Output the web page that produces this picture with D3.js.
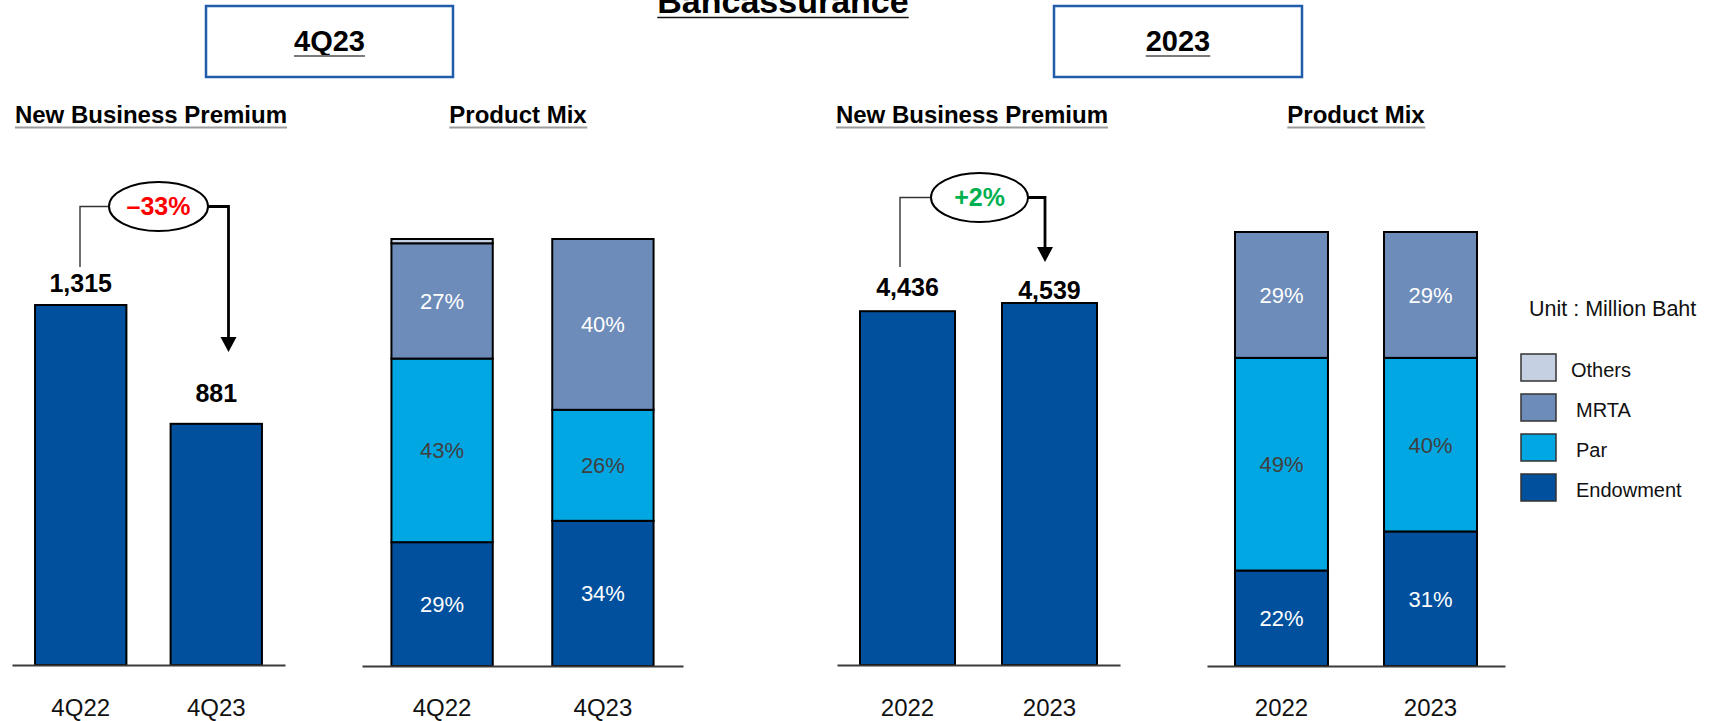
<!DOCTYPE html>
<html><head><meta charset="utf-8">
<script src="https://cdn.jsdelivr.net/npm/d3@7"></script>
<style>
html,body{margin:0;padding:0;background:#fff;}
svg{display:block;font-family:"Liberation Sans",Arial,Helvetica,sans-serif;}
</style></head><body>
<svg id="chart" width="1713" height="721"></svg>
<script>
// ---- data ----
const quarterCategories = ['4Q22', '4Q23'];
const quarterPremium = [1315, 881];
const yearCategories = ['2022', '2023'];
const yearPremium = [4436, 4539];
const quarterGrowth = '–33%';
const yearGrowth = '+2%';

const mixKeys = ['Endowment', 'Par', 'MRTA', 'Others'];
const quarterEndowment = [29, 34];
const quarterPar = [43, 26];
const quarterMRTA = [27, 40];
const quarterOthers = [1, 0];
const yearEndowment = [22, 31];
const yearPar = [49, 40];
const yearMRTA = [29, 29];
const yearOthers = [0, 0];
const legendKeys = ['Others', 'MRTA', 'Par', 'Endowment'];

// ---- styles ----
const colors = {Endowment: '#00509e', Par: '#00a7e3', MRTA: '#6d8cb9', Others: '#c5d0e2'};
const labelColors = {Endowment: '#ffffff', Par: '#404040', MRTA: '#ffffff', Others: '#404040'};
const boxBlue = '#1f5caa';

const svg = d3.select('#chart');

function underline(textSel, y, color, width) {
  const bb = textSel.node().getBBox();
  svg.append('line')
    .attr('x1', bb.x).attr('x2', bb.x + bb.width)
    .attr('y1', y).attr('y2', y)
    .attr('stroke', color).attr('stroke-width', width);
}

// ---- page title (runs off the top edge) ----
const title = svg.append('text')
  .attr('x', 783).attr('y', 12.5)
  .attr('text-anchor', 'middle')
  .attr('font-size', 34).attr('font-weight', 'bold')
  .text('Bancassurance');
underline(title, 17.5, '#111', 1.6);

// ---- period boxes ----
function periodBox(x0, x1, label) {
  svg.append('rect')
    .attr('x', x0).attr('y', 6).attr('width', x1 - x0).attr('height', 71)
    .attr('fill', '#fff').attr('stroke', boxBlue).attr('stroke-width', 2.5);
  const t = svg.append('text')
    .attr('x', (x0 + x1) / 2).attr('y', 51)
    .attr('text-anchor', 'middle')
    .attr('font-size', 29).attr('font-weight', 'bold')
    .text(label);
  underline(t, 56, '#7a7a7a', 2);
}
periodBox(206, 453, '4Q23');
periodBox(1054, 1302, '2023');

// ---- section headers ----
function header(cx, label) {
  const t = svg.append('text')
    .attr('x', cx).attr('y', 123)
    .attr('text-anchor', 'middle')
    .attr('font-size', 24).attr('font-weight', 'bold')
    .text(label);
  underline(t, 127.5, '#9c9c9c', 2);
}
header(151, 'New Business Premium');
header(518, 'Product Mix');
header(972, 'New Business Premium');
header(1356, 'Product Mix');

// ---- shared x axis ----
function drawAxis(x, base) {
  const g = svg.append('g')
    .attr('transform', `translate(0,${base})`)
    .call(d3.axisBottom(x).tickSize(0).tickSizeOuter(0).tickPadding(716 - base - 17));
  g.select('.domain').attr('stroke', '#3a3a3a').attr('stroke-width', 2);
  g.selectAll('text')
    .attr('font-size', 24).attr('fill', '#111')
    .attr('font-family', '"Liberation Sans",Arial,Helvetica,sans-serif');
  return g;
}

// ---- new business premium panels ----
function premiumPanel(cfg) {
  const x = d3.scaleBand().domain(cfg.cats).range(cfg.xRange)
    .paddingInner(cfg.inner).paddingOuter(cfg.outer);
  const y = d3.scaleLinear().domain([0, d3.max(cfg.values)]).range([cfg.base, cfg.top]);
  const data = cfg.cats.map((c, i) => ({cat: c, value: cfg.values[i], offset: cfg.labelGap[i]}));

  svg.append('g').selectAll('rect').data(data).join('rect')
    .attr('x', d => x(d.cat)).attr('width', x.bandwidth())
    .attr('y', d => y(d.value)).attr('height', d => cfg.base - y(d.value))
    .attr('fill', colors.Endowment).attr('stroke', '#000').attr('stroke-width', 2);

  svg.append('g').selectAll('text').data(data).join('text')
    .attr('x', d => x(d.cat) + x.bandwidth() / 2)
    .attr('y', d => y(d.value) - d.offset)
    .attr('text-anchor', 'middle')
    .attr('font-size', 25).attr('font-weight', 'bold')
    .text(d => d3.format(',')(d.value));

  drawAxis(x, cfg.base);

  // growth bracket with arrow
  const e = cfg.ellipse;
  svg.append('path')
    .attr('d', `M${cfg.leftX},${cfg.leftBottom} V${e.cy} H${e.cx - e.rx}`)
    .attr('fill', 'none').attr('stroke', '#333').attr('stroke-width', 1.4);
  svg.append('path')
    .attr('d', `M${e.cx + e.rx},${e.cy} H${cfg.arrowX} V${cfg.arrowTip - 13}`)
    .attr('fill', 'none').attr('stroke', '#000').attr('stroke-width', 2.8);
  svg.append('path')
    .attr('d', `M${cfg.arrowX - 8},${cfg.arrowTip - 15} L${cfg.arrowX + 8},${cfg.arrowTip - 15} L${cfg.arrowX},${cfg.arrowTip} Z`)
    .attr('fill', '#000');
  svg.append('ellipse')
    .attr('cx', e.cx).attr('cy', e.cy).attr('rx', e.rx).attr('ry', e.ry)
    .attr('fill', '#fff').attr('stroke', '#000').attr('stroke-width', 2);
  svg.append('text')
    .attr('x', e.cx).attr('y', e.cy + 8.5)
    .attr('text-anchor', 'middle')
    .attr('font-size', 25).attr('font-weight', 'bold')
    .attr('fill', cfg.growthColor)
    .text(cfg.growth);
}

premiumPanel({
  cats: quarterCategories, values: quarterPremium,
  xRange: [12, 285], inner: 0.326, outer: 0.17,
  base: 665, top: 305, labelGap: [13, 22],
  growth: quarterGrowth, growthColor: '#ff0000',
  ellipse: {cx: 158.5, cy: 206.5, rx: 49.5, ry: 24.5},
  leftX: 80, leftBottom: 267, arrowX: 228.5, arrowTip: 352
});

premiumPanel({
  cats: yearCategories, values: yearPremium,
  xRange: [837, 1120], inner: 0.331, outer: 0.162,
  base: 665, top: 303, labelGap: [15, 4],
  growth: yearGrowth, growthColor: '#00b050',
  ellipse: {cx: 979.5, cy: 197.5, rx: 48.5, ry: 24.5},
  leftX: 900, leftBottom: 267, arrowX: 1045, arrowTip: 262
});

// ---- product mix panels ----
function mixPanel(cfg) {
  const rows = cfg.cats.map((c, i) => ({
    cat: c,
    Endowment: cfg.endowment[i], Par: cfg.par[i], MRTA: cfg.mrta[i], Others: cfg.others[i]
  }));
  const series = d3.stack().keys(mixKeys)(rows);
  const x = d3.scaleBand().domain(cfg.cats).range(cfg.xRange)
    .paddingInner(cfg.inner).paddingOuter(cfg.outer);
  const y = d3.scaleLinear().domain([0, 100]).range([cfg.base, cfg.top]);

  const g = svg.append('g');
  series.forEach(s => {
    const segs = s.map(d => ({key: s.key, cat: d.data.cat, y0: d[0], y1: d[1]}))
      .filter(d => d.y1 - d.y0 > 0);
    g.append('g').selectAll('rect').data(segs).join('rect')
      .attr('x', d => x(d.cat)).attr('width', x.bandwidth())
      .attr('y', d => y(d.y1)).attr('height', d => y(d.y0) - y(d.y1))
      .attr('fill', colors[s.key]).attr('stroke', '#000').attr('stroke-width', 2);
    g.append('g').selectAll('text').data(segs.filter(d => d.y1 - d.y0 >= 5)).join('text')
      .attr('x', d => x(d.cat) + x.bandwidth() / 2)
      .attr('y', d => (y(d.y0) + y(d.y1)) / 2 + 8)
      .attr('text-anchor', 'middle')
      .attr('font-size', 22)
      .attr('fill', labelColors[s.key])
      .text(d => `${d.y1 - d.y0}%`);
  });

  drawAxis(x, cfg.base);
}

mixPanel({
  cats: quarterCategories,
  endowment: quarterEndowment, par: quarterPar, mrta: quarterMRTA, others: quarterOthers,
  xRange: [362, 683], inner: 0.37, outer: 0.183, base: 666, top: 239
});

mixPanel({
  cats: yearCategories,
  endowment: yearEndowment, par: yearPar, mrta: yearMRTA, others: yearOthers,
  xRange: [1207, 1505], inner: 0.376, outer: 0.188, base: 666, top: 232
});

// ---- legend ----
svg.append('text')
  .attr('x', 1529).attr('y', 316)
  .attr('font-size', 21.5).attr('fill', '#111')
  .text('Unit : Million Baht');

const legend = svg.append('g').selectAll('g').data(legendKeys).join('g')
  .attr('transform', (d, i) => `translate(1521,${354 + i * 40})`);
legend.append('rect')
  .attr('width', 35).attr('height', 27)
  .attr('fill', d => colors[d]).attr('stroke', '#333').attr('stroke-width', 1.5);
legend.append('text')
  .attr('x', (d, i) => i === 0 ? 50 : 55).attr('y', 23)
  .attr('font-size', 20).attr('fill', '#111')
  .text(d => d);
</script>
</body></html>
